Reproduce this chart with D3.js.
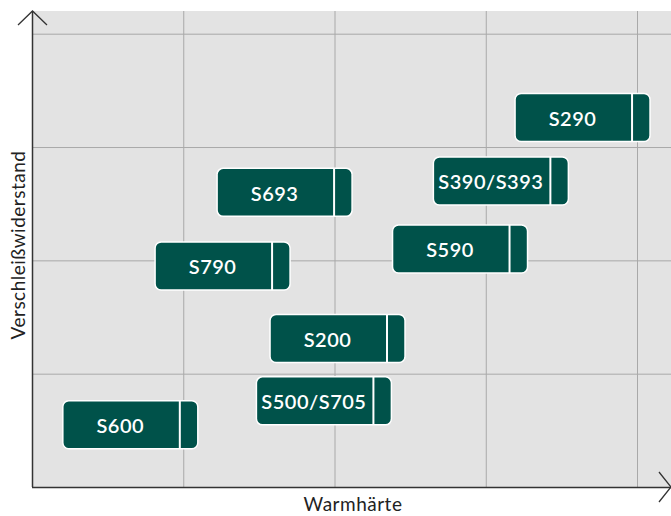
<!DOCTYPE html>
<html>
<head>
<meta charset="utf-8">
<script src="https://cdn.jsdelivr.net/npm/d3@7"></script>
<style>
  html, body { margin: 0; padding: 0; background: #ffffff; }
  svg { display: block; }
</style>
</head>
<body>
<svg id="chart" width="671" height="516"></svg>
<script>
// ---- data ----
const products = ["S290", "S390/S393", "S693", "S590", "S790", "S200", "S500/S705", "S600"];
const warmhaerte = [3.64, 3.10, 1.67, 2.83, 1.26, 2.02, 1.93, 0.65];
const verschleiss = [3.26, 2.70, 2.60, 2.10, 1.95, 1.31, 0.76, 0.55];
const gridTicks = [0, 1, 2, 3, 4];
const xTitle = "Warmhärte";
const yTitle = "Verschleißwiderstand";

(function () {
const pl = 32, pr = 671, pt = 11, pb = 487;
const svg = d3.select("#chart");

const x = d3.scaleLinear().domain([0, 4]).range([pl, 637]);
const y = d3.scaleLinear().domain([0, 4]).range([pb, 33.7]);

// plot background
svg.append("rect").attr("x", pl).attr("y", pt)
  .attr("width", pr - pl).attr("height", pb - pt)
  .attr("fill", "#e3e3e3");

// grid via axes
const gx = svg.append("g").attr("transform", `translate(0,${pb})`)
  .call(d3.axisBottom(x).tickValues(gridTicks.slice(1)).tickSize(-(pb - pt)).tickFormat(""));
const gy = svg.append("g").attr("transform", `translate(${pl},0)`)
  .call(d3.axisLeft(y).tickValues(gridTicks.slice(1)).tickSize(-(pr - pl)).tickFormat(""));
[gx, gy].forEach(g => {
  g.select(".domain").remove();
  g.selectAll(".tick line").attr("stroke", "#a9a9a9").attr("stroke-width", 1);
});

// axes lines with arrows
const axisColor = "#333333";
svg.append("line").attr("x1", pl + 0.5).attr("x2", pl + 0.5).attr("y1", pt).attr("y2", pb)
  .attr("stroke", axisColor).attr("stroke-width", 1.5);
svg.append("line").attr("x1", pl).attr("x2", pr).attr("y1", pb + 0.5).attr("y2", pb + 0.5)
  .attr("stroke", axisColor).attr("stroke-width", 1.5);
svg.append("path").attr("d", `M${pl - 14},${pt + 14} L${pl + 0.5},${pt} L${pl + 15},${pt + 14}`)
  .attr("fill", "none").attr("stroke", axisColor).attr("stroke-width", 1.3);
svg.append("path").attr("d", `M${pr - 12},${pb - 15} L${pr},${pb} L${pr - 12},${pb + 15}`)
  .attr("fill", "none").attr("stroke", axisColor).attr("stroke-width", 1.3);

// boxes
const bw = 135, bh = 48, tail = 18;
const data = products.map((p, i) => ({ name: p, x: warmhaerte[i], y: verschleiss[i] }));
const g = svg.append("g").selectAll("g").data(data).join("g")
  .attr("transform", d => `translate(${x(d.x) - bw / 2},${y(d.y) - bh / 2})`);
g.append("rect").attr("width", bw).attr("height", bh).attr("rx", 6).attr("ry", 6)
  .attr("fill", "#00524a").attr("stroke", "#ffffff").attr("stroke-width", 1.5);
g.append("line").attr("x1", bw - tail).attr("x2", bw - tail).attr("y1", 0).attr("y2", bh)
  .attr("stroke", "#ffffff").attr("stroke-width", 2);
g.append("text").attr("x", (bw - tail) / 2 - 1).attr("y", bh / 2 + 1).attr("dy", "0.36em")
  .attr("text-anchor", "middle").attr("fill", "#ffffff")
  .attr("font-family", "Lato, 'Noto Sans', sans-serif").attr("font-weight", 600)
  .attr("font-size", 20).attr("letter-spacing", 0.5).text(d => d.name);

// titles
svg.append("text").attr("x", 353).attr("y", 511).attr("text-anchor", "middle")
  .attr("font-family", "Lato, 'Noto Sans', sans-serif").attr("font-size", 19)
  .attr("letter-spacing", 0.5).attr("fill", "#222")
  .text(xTitle);
svg.append("text").attr("transform", `translate(25,245) rotate(-90)`).attr("text-anchor", "middle")
  .attr("font-family", "Lato, 'Noto Sans', sans-serif").attr("font-size", 19)
  .attr("letter-spacing", 0.5).attr("fill", "#222")
  .text(yTitle);
})();
</script>
</body>
</html>
